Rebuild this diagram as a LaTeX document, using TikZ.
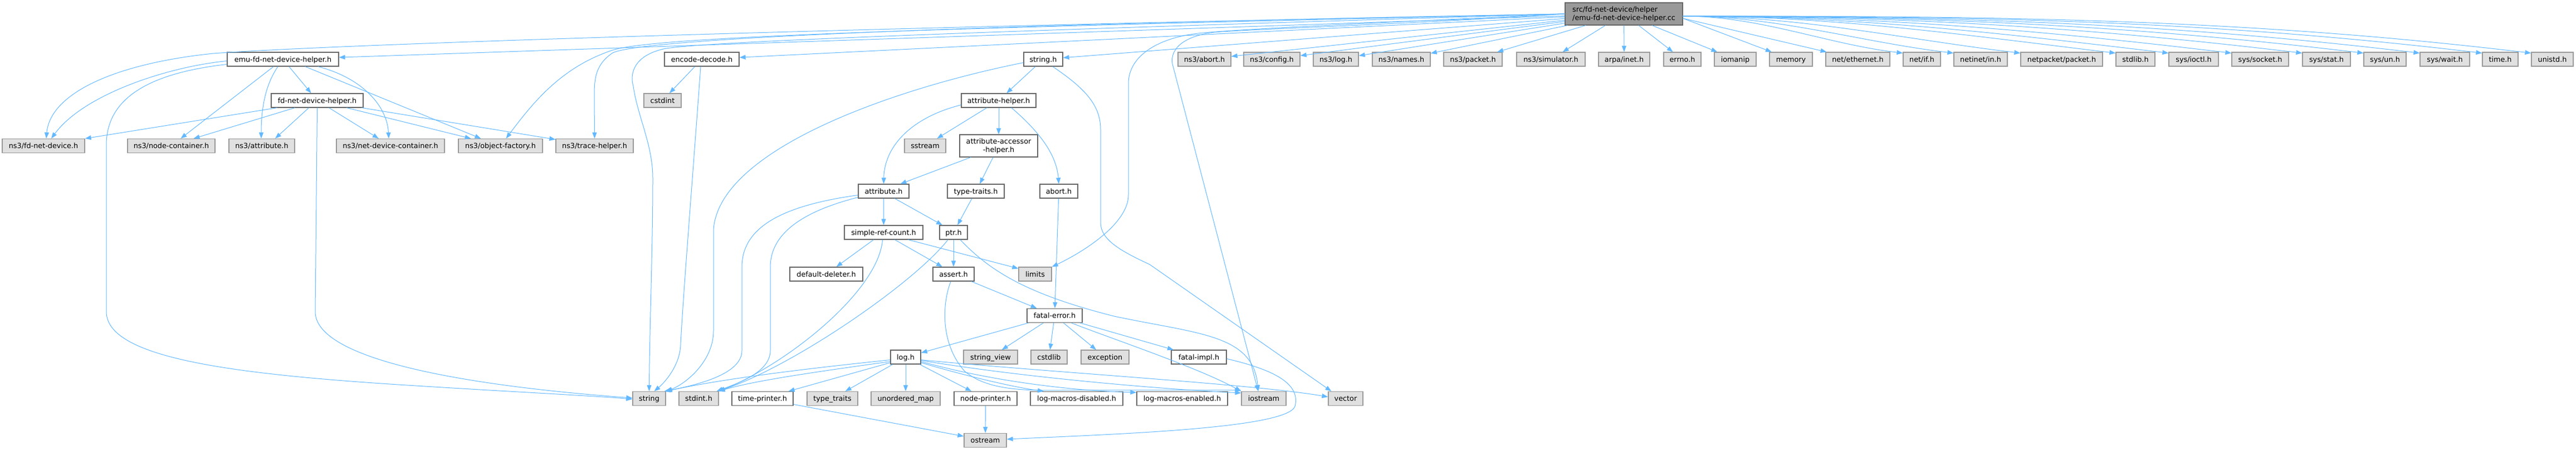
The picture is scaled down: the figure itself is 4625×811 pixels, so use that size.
\documentclass[tikz,border=0pt]{standalone}
\usepackage{fontspec}
\setmainfont{DejaVu Sans}
\usetikzlibrary{arrows.meta}
\definecolor{edgec}{HTML}{63B8FF}
\definecolor{gfill}{HTML}{E0E0E0}
\definecolor{gborder}{HTML}{999999}
\definecolor{wborder}{HTML}{666666}
\definecolor{rootfill}{HTML}{999999}
\newcommand\bx[6]{\node[#1,minimum width=#5pt] (#2) at (#3,-#4) {#6};}
\begin{document}
\begin{tikzpicture}[x=1pt,y=1pt,
  e/.style={draw=edgec, line width=1pt, -{Triangle[length=11pt,width=8pt]}},
  base/.style={rectangle, inner sep=0pt, line width=1.2pt, minimum height=25pt,
    font=\fontsize{12.8}{15}\selectfont, anchor=center},
  sl/.style={base, text height=10pt, text depth=1pt},
  gb/.style={sl, draw=gborder, fill=gfill},
  wb/.style={sl, draw=wborder, fill=white},
  rootb/.style={base, draw=wborder, fill=rootfill, minimum height=40pt, align=left},
  wml/.style={base, draw=wborder, fill=white, minimum height=40pt, align=center}]
\useasboundingbox (0,0) rectangle (4625,-811);
% root
\node[rootb,minimum width=211pt] (root) at (2915.5,-25) {src/fd-net-device/helper\\/emu-fd-net-device-helper.cc};
% row 1
\bx{wb}{emuh}{508}{106.5}{200}{emu-fd-net-device-helper.h}
\bx{wb}{encdec}{1260}{106.5}{134}{encode-decode.h}
\bx{wb}{stringh}{1873}{106.5}{70}{string.h}
\bx{gb}{abortt}{2162.5}{106.5}{95}{ns3/abort.h}
\bx{gb}{config}{2283.5}{106.5}{101}{ns3/config.h}
\bx{gb}{logt}{2398.5}{106.5}{81}{ns3/log.h}
\bx{gb}{names}{2516}{106.5}{104}{ns3/names.h}
\bx{gb}{packet}{2644.5}{106.5}{105}{ns3/packet.h}
\bx{gb}{simulator}{2784.5}{106.5}{123}{ns3/simulator.h}
\bx{gb}{arpa}{2916}{106.5}{92}{arpa/inet.h}
\bx{gb}{errno}{3020.5}{106.5}{67}{errno.h}
\bx{gb}{iomanip}{3115.5}{106.5}{75}{iomanip}
\bx{gb}{memory}{3215.5}{106.5}{77}{memory}
\bx{gb}{neteth}{3335.5}{106.5}{115}{net/ethernet.h}
\bx{gb}{netif}{3450.5}{106.5}{67}{net/if.h}
\bx{gb}{netinet}{3556}{106.5}{96}{netinet/in.h}
\bx{gb}{netpacket}{3701.5}{106.5}{147}{netpacket/packet.h}
\bx{gb}{stdlibh}{3834}{106.5}{70}{stdlib.h}
\bx{gb}{ioctl}{3938.5}{106.5}{89}{sys/ioctl.h}
\bx{gb}{socket}{4058}{106.5}{102}{sys/socket.h}
\bx{gb}{stat}{4177}{106.5}{86}{sys/stat.h}
\bx{gb}{un}{4282}{106.5}{76}{sys/un.h}
\bx{gb}{wait}{4389.5}{106.5}{89}{sys/wait.h}
\bx{gb}{timeh}{4489}{106.5}{64}{time.h}
\bx{gb}{unistd}{4582.5}{106.5}{75}{unistd.h}
% row 2
\bx{wb}{fdh}{569.5}{180.5}{165}{fd-net-device-helper.h}
\bx{gb}{cstdint}{1189.5}{180.5}{67}{cstdint}
\bx{wb}{athelper}{1793}{180.5}{134}{attribute-helper.h}
% row 3
\bx{gb}{fdnd}{78}{262}{148}{ns3/fd-net-device.h}
\bx{gb}{nodec}{307.5}{262}{157}{ns3/node-container.h}
\bx{gb}{attrt}{470}{262}{118}{ns3/attribute.h}
\bx{gb}{ndc}{701}{262}{194}{ns3/net-device-container.h}
\bx{gb}{objf}{898.5}{262}{151}{ns3/object-factory.h}
\bx{gb}{trace}{1067.5}{262}{139}{ns3/trace-helper.h}
\bx{gb}{sstream}{1661}{262}{74}{sstream}
\node[wml,minimum width=140pt] (aah) at (1793,-262) {attribute-accessor\\-helper.h};
% row 4
\bx{wb}{attrh}{1586.5}{343.5}{91}{attribute.h}
\bx{wb}{typetraits}{1752}{343.5}{102}{type-traits.h}
\bx{wb}{aborth}{1901}{343.5}{68}{abort.h}
% row 5
\bx{wb}{src}{1586.5}{417.5}{141}{simple-ref-count.h}
\bx{wb}{ptr}{1712}{417.5}{50}{ptr.h}
% row 6
\bx{wb}{dd}{1483.5}{492.5}{131}{default-deleter.h}
\bx{wb}{assert}{1712}{492.5}{74}{assert.h}
\bx{gb}{limits}{1858.5}{492.5}{59}{limits}
% row 7
\bx{wb}{fatal}{1893.5}{567}{99}{fatal-error.h}
% row 8
\bx{wb}{logh}{1626}{641.5}{54}{log.h}
\bx{gb}{sv}{1778.5}{641.5}{97}{string\_view}
\bx{gb}{cstdlib}{1883.5}{641.5}{65}{cstdlib}
\bx{gb}{exception}{1984}{641.5}{86}{exception}
\bx{wb}{fimpl}{2152.5}{641.5}{99}{fatal-impl.h}
% row 9
\bx{gb}{string}{1165.5}{716}{59}{string}
\bx{gb}{stdint}{1254.5}{716}{71}{stdint.h}
\bx{wb}{tp}{1369}{716}{110}{time-printer.h}
\bx{gb}{tt}{1494.5}{716}{91}{type\_traits}
\bx{gb}{um}{1626}{716}{124}{unordered\_map}
\bx{wb}{np}{1769.5}{716}{113}{node-printer.h}
\bx{wb}{lmd}{1933}{716}{166}{log-macros-disabled.h}
\bx{wb}{lme}{2122.5}{716}{163}{log-macros-enabled.h}
\bx{gb}{iostream}{2269}{716}{80}{iostream}
\bx{gb}{vector}{2416}{716}{62}{vector}
% row 10
\bx{gb}{ostream}{1769}{791}{76}{ostream}

% ---- edges from root
\foreach \t in {abortt,config,logt,names,packet,simulator,arpa,errno,iomanip,emuh,encdec,stringh}
  \draw[e] (root) -- (\t);
\foreach \t in {memory,neteth}
  \draw[e] ([yshift=-8pt]root.east) -- (\t);
\foreach \t/\c in {netif/139,netinet/170,netpacket/212,stdlibh/272,ioctl/305,socket/345,stat/390,un/428,wait/463,timeh/503,unistd/533}
  \draw[e] ([yshift=-4pt]root.east) .. controls +(\c,0) and +(-\c,0.12*\c) .. ([yshift=-2pt]\t.north west);
\draw[e] (root.west) .. controls (1500,-50) and (600,-80) .. (383,-96) .. controls (200,-115) and (90,-170) .. ([xshift=5pt]fdnd.north);
\draw[e] (root.west) .. controls (1700,-50) and (1180,-65) .. (1100,-90) .. controls (1010,-120) and (960,-180) .. ([xshift=10pt]objf.north);
\draw[e] (root.west) .. controls (1700,-45) and (1150,-70) .. (1100,-95) .. controls (1070,-115) and (1067,-140) .. (1067,-170) -- (trace.north);
\draw[e] (root.west) .. controls (1800,-55) and (1250,-75) .. (1191,-88) .. controls (1140,-100) and (1130,-130) .. (1137,-155) .. controls (1145,-210) and (1172,-260) .. (1172,-320) .. controls (1172,-450) and (1166,-600) .. (string.north);
\draw[e] (root.west) .. controls (2500,-40) and (2220,-52) .. (2151,-60) .. controls (2080,-68) and (2026,-100) .. (2026,-150) -- (2026,-350) .. controls (2026,-400) and (1950,-450) .. (limits.north east);
\draw[e] (root.west) .. controls (2500,-45) and (2250,-52) .. (2180,-58) .. controls (2130,-64) and (2100,-85) .. (2105,-115) -- ([xshift=-10pt]iostream.north);

% ---- string.h
\draw[e] (stringh) -- (athelper);
\draw[e] ([yshift=-6pt]stringh.west) .. controls (1600,-160) and (1290,-270) .. (1281,-413) -- (1281,-594) .. controls (1281,-650) and (1230,-690) .. (string.north east);
\draw[e] ([xshift=17pt]stringh.south) .. controls (1950,-160) and (1976,-190) .. (1976,-233) -- (1976,-400) .. controls (1976,-430) and (2010,-450) .. (2064,-475) -- ([xshift=6pt]vector.north west);

% ---- encode-decode.h
\draw[e] (encdec) -- (cstdint);
\draw[e] ([xshift=-2pt]encdec.south) .. controls (1245,-300) and (1225,-550) .. (1222,-620) .. controls (1220,-660) and (1190,-690) .. ([xshift=9pt]string.north);

% ---- emu-fd-net-device-helper.h
\draw[e] ([yshift=-3pt]emuh.west) .. controls (300,-120) and (150,-170) .. ([xshift=14pt]fdnd.north);
\draw[e] ([yshift=-9pt]emuh.west) .. controls (280,-130) and (191,-170) .. (191,-260) -- (191,-560) .. controls (191,-640) and (400,-670) .. (700,-690) .. controls (900,-703) and (1050,-710) .. ([yshift=-1pt]string.west);
\draw[e] (emuh) -- (nodec);
\draw[e] ([xshift=-9pt]emuh.south) .. controls (478,-150) and (469,-190) .. ([xshift=-1pt]attrt.north);
\draw[e] (emuh) -- (fdh);
\draw[e] ([xshift=40pt]emuh.south) -- ([xshift=-35pt]objf.north);
\draw[e] ([xshift=63pt]emuh.south) .. controls (650,-140) and (695,-190) .. ([xshift=-3pt]ndc.north);

% ---- fd-net-device-helper.h
\draw[e] ([xshift=-72pt]fdh.south) -- (fdnd.north east);
\draw[e] ([xshift=-40pt]fdh.south) -- ([xshift=40pt]nodec.north);
\draw[e] ([xshift=-15pt]fdh.south) -- ([xshift=24pt]attrt.north);
\draw[e] (fdh.south) -- (566,-560) .. controls (566,-640) and (800,-690) .. ([yshift=1pt]string.west);
\draw[e] (fdh) -- (ndc);
\draw[e] (fdh) -- (objf);
\draw[e] (fdh) -- (trace);

% ---- attribute-helper.h
\draw[e] ([yshift=-8pt]athelper.west) .. controls (1640,-210) and (1588,-260) .. (attrh.north);
\draw[e] (athelper) -- (sstream);
\draw[e] (athelper) -- (aah);
\draw[e] ([xshift=23pt]athelper.south) .. controls (1870,-240) and (1897,-280) .. (aborth.north);

% ---- attribute-accessor-helper.h
\draw[e] ([xshift=-50pt]aah.south) -- ([xshift=30pt]attrh.north);
\draw[e] ([xshift=-10pt]aah.south) -- ([xshift=7pt]typetraits.north);

% ---- attribute.h
\draw[e] (attrh) -- (src);
\draw[e] ([xshift=20pt]attrh.south) -- ([xshift=-20pt]ptr.north);
\draw[e] ([yshift=-7pt]attrh.west) .. controls (1400,-370) and (1332,-410) .. (1332,-480) -- (1332,-630) .. controls (1332,-670) and (1260,-690) .. ([xshift=-3pt]string.north east);
\draw[e] ([yshift=-11pt]attrh.west) .. controls (1440,-380) and (1383,-420) .. (1383,-480) -- (1383,-630) .. controls (1383,-670) and (1320,-690) .. ([xshift=-4pt]stdint.north east);

\draw[e] (typetraits) -- (ptr);
\draw[e] (aborth) -- (fatal);

% ---- simple-ref-count.h
\draw[e] (src) -- (dd);
\draw[e] ([xshift=20pt]src.south) -- ([xshift=-20pt]assert.north);
\draw[e] ([xshift=44pt]src.south) -- ([yshift=-3pt]limits.north west);
\draw[e] ([xshift=-2pt]src.south) .. controls (1578,-520) and (1420,-650) .. (stdint.north east);

% ---- ptr.h
\draw[e] (ptr) -- (assert);
\draw[e] ([xshift=-10pt]ptr.south) .. controls (1640,-510) and (1420,-660) .. ([xshift=-2pt]stdint.north east);
\draw[e] ([xshift=12pt]ptr.south) .. controls (1780,-490) and (1850,-530) .. (2000,-568) .. controls (2150,-600) and (2250,-600) .. ([xshift=-10pt]iostream.north);

% ---- assert.h
\draw[e] (assert) -- (fatal);
\draw[e] ([xshift=-5pt]assert.south) .. controls (1690,-550) and (1690,-620) .. (1732,-667) .. controls (1760,-690) and (1800,-701) .. (1874,-701) -- ([yshift=2pt]iostream.north west);

% ---- fatal-error.h
\foreach \t in {logh,sv,cstdlib,exception,fimpl}
  \draw[e] (fatal) -- (\t);
\draw[e] ([xshift=30pt]fatal.south) .. controls (2000,-610) and (2150,-660) .. (iostream.north west);

% ---- fatal-impl.h
\draw[e] ([yshift=-3pt]fimpl.east) .. controls (2290,-665) and (2335,-690) .. (2325,-730) .. controls (2310,-770) and (2000,-780) .. ([yshift=2pt]ostream.east);

% ---- log.h
\draw[e] ([yshift=-5pt]logh.west) .. controls (1450,-662) and (1300,-680) .. (string.north east);
\draw[e] ([yshift=-8pt]logh.west) .. controls (1450,-670) and (1350,-685) .. (stdint.north east);
\draw[e] ([yshift=-10pt]logh.west) -- ([xshift=-9pt]tp.north east);
\draw[e] (logh) -- (tt);
\draw[e] (logh) -- (um);
\draw[e] (logh) -- (np);
\draw[e] ([yshift=-10pt]logh.east) .. controls (1750,-680) and (1830,-697) .. ([xshift=-59pt]lmd.north);
\draw[e] ([yshift=-8pt]logh.east) .. controls (1800,-690) and (1950,-703) .. ([yshift=-2pt]lme.north west);
\draw[e] ([yshift=-6pt]logh.east) .. controls (1850,-680) and (2100,-700) .. ([yshift=-3pt]iostream.north west);
\draw[e] ([yshift=-5pt]logh.east) .. controls (1900,-670) and (2250,-690) .. ([yshift=3pt]vector.west);

% ---- printers
\draw[e] (tp) -- (ostream);
\draw[e] (np) -- (ostream);
\end{tikzpicture}
\end{document}
